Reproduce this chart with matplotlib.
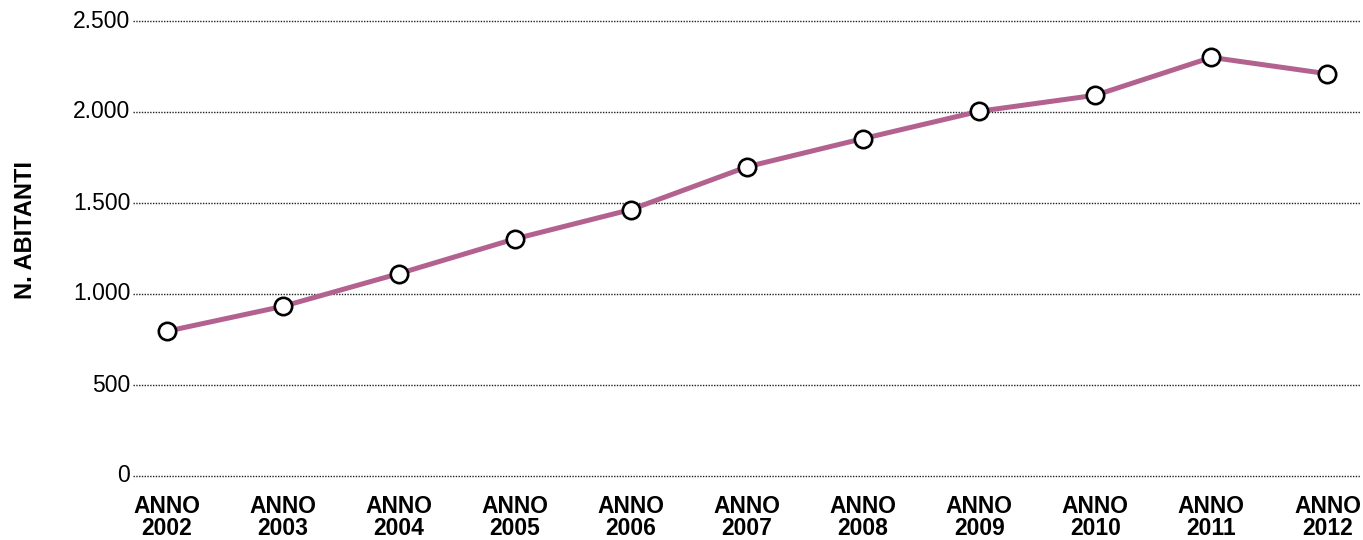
import matplotlib
matplotlib.use("Agg")
import matplotlib.pyplot as plt
from matplotlib.ticker import FuncFormatter

plt.rcParams['font.family'] = ['Liberation Sans', 'DejaVu Sans']

years = ["2002", "2003", "2004", "2005", "2006", "2007", "2008", "2009", "2010", "2011", "2012"]
abitanti = [795, 932, 1112, 1303, 1464, 1699, 1854, 2004, 2092, 2300, 2210]
y_ticks = [0, 500, 1000, 1500, 2000, 2500]

fig = plt.figure(figsize=(13.63, 5.40), dpi=100)
ax = fig.add_axes([133 / 1363, 1 - 476 / 540, (1360 - 133) / 1363, (476 - 21) / 540])

x = list(range(len(years)))
ax.plot(x, abitanti, color="#b3628f", linewidth=3.6, solid_capstyle="butt", zorder=3,
        marker="o", markersize=12.5, markerfacecolor="white",
        markeredgecolor="black", markeredgewidth=1.9)

ax.set_xlim(-0.29, 10.28)
ax.set_ylim(0, 2500)
ax.set_yticks(y_ticks)
ax.yaxis.set_major_formatter(FuncFormatter(lambda v, p: f"{int(v):,}".replace(",", ".")))
ax.set_xticks(x)
ax.set_xticklabels([f"ANNO\n{y}" for y in years], fontweight="bold", fontsize=16.5,
                   linespacing=0.98)

ax.grid(axis="y", linestyle=(0, (1, 1)), color="#222222", linewidth=1.0)
for gl in ax.get_ygridlines():
    gl.set_clip_on(False)
ax.set_axisbelow(True)
for s in ax.spines.values():
    s.set_visible(False)
ax.tick_params(axis="y", length=0, pad=2, labelsize=16.5, colors="black")
ax.tick_params(axis="x", length=0, pad=13.5, colors="black")
for lbl in ax.get_yticklabels():
    lbl.set_verticalalignment("center")

ax.set_ylabel("N. ABITANTI", fontweight="bold", fontsize=17, labelpad=0)
ax.yaxis.set_label_coords(-0.078, 0.541)

fig.savefig("out.png", dpi=100, facecolor="white")
